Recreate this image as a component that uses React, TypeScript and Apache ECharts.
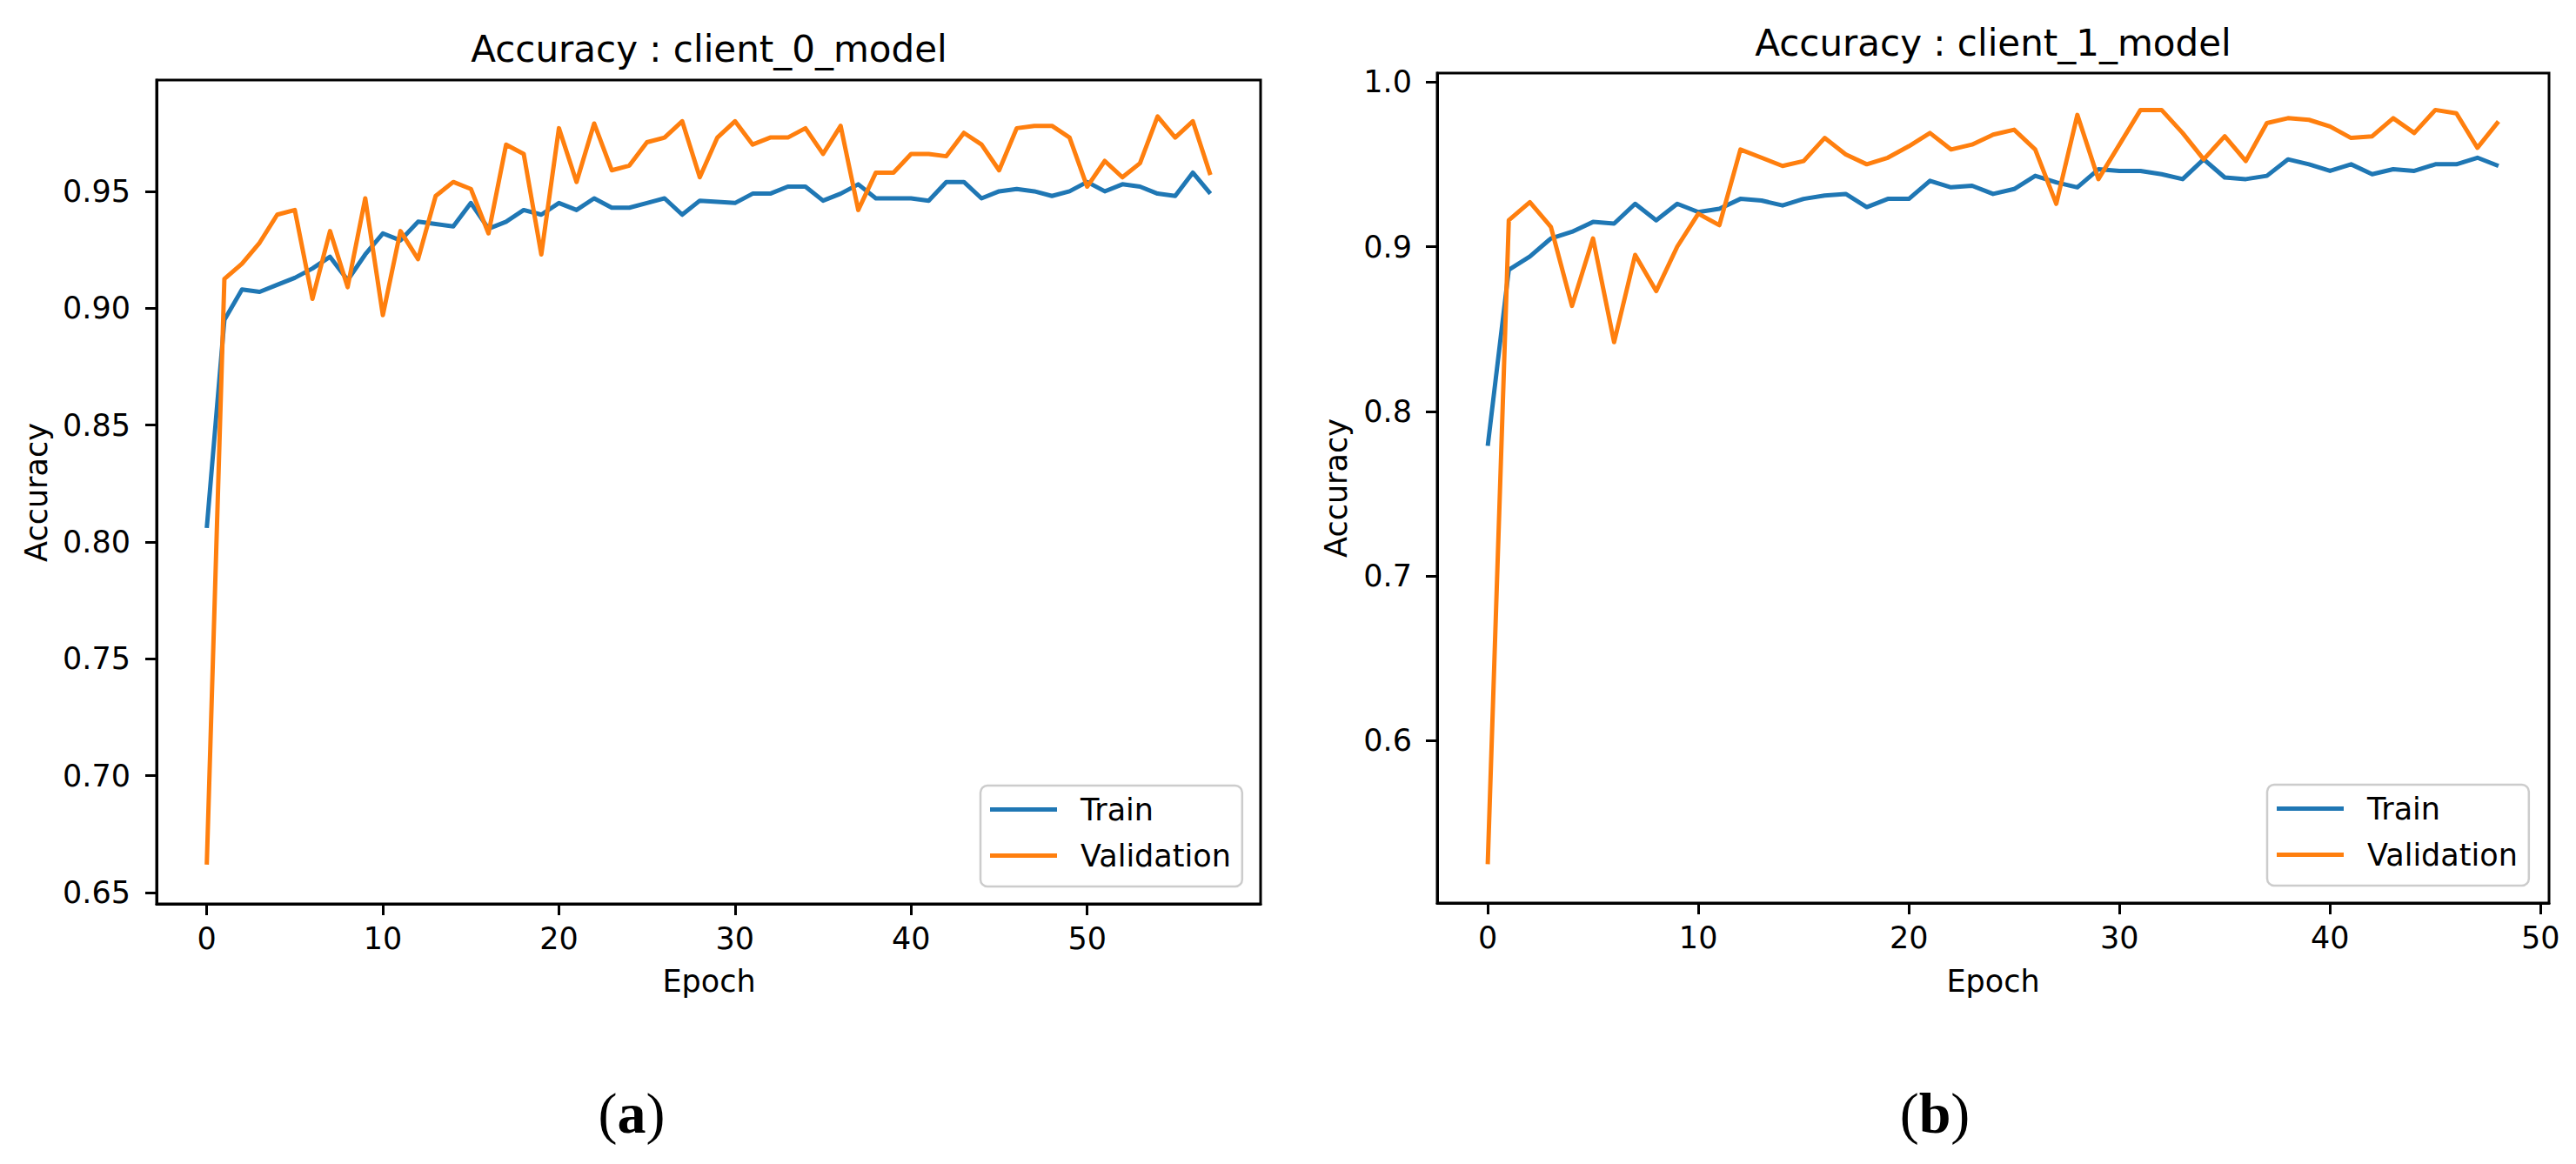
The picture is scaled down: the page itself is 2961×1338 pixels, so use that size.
import React, { useEffect, useRef } from "react";
import * as echarts from "echarts";

// ---- Data ----
const trainA = [
  0.806, 0.895, 0.908, 0.907, 0.91, 0.913, 0.917, 0.922, 0.912, 0.923,
  0.932, 0.929, 0.937, 0.936, 0.935, 0.945, 0.934, 0.937, 0.942, 0.94,
  0.945, 0.942, 0.947, 0.943, 0.943, 0.945, 0.947, 0.94, 0.946, 0.9455,
  0.945, 0.949, 0.949, 0.952, 0.952, 0.946, 0.949, 0.953, 0.947, 0.947,
  0.947, 0.946, 0.954, 0.954, 0.947, 0.95, 0.951, 0.95, 0.948, 0.95,
  0.954, 0.95, 0.953, 0.952, 0.949, 0.948, 0.958, 0.949,
];
const valA = [
  0.662, 0.9125, 0.919, 0.928, 0.94, 0.942, 0.904, 0.933, 0.909, 0.947,
  0.897, 0.933, 0.921, 0.948, 0.954, 0.951, 0.932, 0.97, 0.966, 0.923,
  0.977, 0.954, 0.979, 0.959, 0.961, 0.971, 0.973, 0.98, 0.956, 0.973,
  0.98, 0.97, 0.973, 0.973, 0.977, 0.966, 0.978, 0.942, 0.958, 0.958,
  0.966, 0.966, 0.965, 0.975, 0.97, 0.959, 0.977, 0.978, 0.978, 0.973,
  0.952, 0.963, 0.956, 0.962, 0.982, 0.973, 0.98, 0.957,
];
const trainB = [
  0.779, 0.886, 0.894, 0.905, 0.909, 0.915, 0.914, 0.926, 0.916, 0.926,
  0.921, 0.923, 0.929, 0.928, 0.925, 0.929, 0.931, 0.932, 0.924, 0.929,
  0.929, 0.94, 0.936, 0.937, 0.932, 0.935, 0.943, 0.939, 0.936, 0.947,
  0.946, 0.946, 0.944, 0.941, 0.953, 0.942, 0.941, 0.943, 0.953, 0.95,
  0.946, 0.95, 0.944, 0.947, 0.946, 0.95, 0.95, 0.954, 0.949,
];
const valB = [
  0.525, 0.916, 0.927, 0.912, 0.864, 0.905, 0.842, 0.895, 0.873, 0.9,
  0.92, 0.913, 0.959, 0.954, 0.949, 0.952, 0.966, 0.956, 0.95, 0.954,
  0.961, 0.969, 0.959, 0.962, 0.968, 0.971, 0.959, 0.926, 0.98, 0.941,
  0.962, 0.983, 0.983, 0.969, 0.953, 0.967, 0.952, 0.975, 0.978, 0.977,
  0.973, 0.966, 0.967, 0.978, 0.969, 0.983, 0.981, 0.96, 0.976,
];
const xTicks = [0, 10, 20, 30, 40, 50];
const yTicksA = [0.65, 0.7, 0.75, 0.8, 0.85, 0.9, 0.95];
const yTicksB = [0.6, 0.7, 0.8, 0.9, 1.0];
const titles = ["Accuracy : client_0_model", "Accuracy : client_1_model"];
const seriesNames = ["Train", "Validation"];
const colors = ["#1f77b4", "#ff7f0e"];

const FONT = "DejaVu Sans";
const TICK_FS = 35;

function pairs(arr: number[]) {
  return arr.map((v, i) => [i, v]);
}

function xAxisCfg(gridIndex: number, min: number, max: number) {
  return {
    type: "value",
    gridIndex,
    min,
    max,
    axisLine: { show: true, onZero: false, lineStyle: { color: "#000", width: 3 } },
    axisTick: {
      show: true,
      length: 13,
      inside: false,
      lineStyle: { color: "#000", width: 3 },
      customValues: xTicks,
    },
    axisLabel: {
      customValues: xTicks,
      fontSize: TICK_FS,
      fontFamily: FONT,
      color: "#000",
      margin: 22,
    },
    splitLine: { show: false },
  };
}

function yAxisCfg(gridIndex: number, min: number, max: number, ticks: number[], dec: number, margin: number) {
  return {
    type: "value",
    gridIndex,
    min,
    max,
    axisLine: { show: true, onZero: false, lineStyle: { color: "#000", width: 3 } },
    axisTick: {
      show: true,
      length: 13,
      inside: false,
      lineStyle: { color: "#000", width: 3 },
      customValues: ticks,
    },
    axisLabel: {
      customValues: ticks,
      fontSize: TICK_FS,
      fontFamily: FONT,
      color: "#000",
      margin,
      formatter: (v: number) => v.toFixed(dec),
    },
    splitLine: { show: false },
  };
}

function lineSeries(name: string, data: number[], idx: number, color: string) {
  return {
    type: "line",
    name,
    xAxisIndex: idx,
    yAxisIndex: idx,
    data: pairs(data),
    showSymbol: false,
    symbol: "none",
    lineStyle: { color, width: 5, join: "round" },
    itemStyle: { color },
    z: 3,
  };
}

function legendCfg(left: number, top: number) {
  return {
    left,
    top,
    orient: "vertical",
    data: seriesNames,
    icon: "rect",
    itemWidth: 77,
    itemHeight: 5,
    itemGap: 18,
    padding: [10, 13, 18, 11],
    backgroundColor: "rgba(255,255,255,0.8)",
    borderColor: "#cccccc",
    borderWidth: 2.5,
    borderRadius: 8,
    textStyle: {
      fontSize: TICK_FS,
      fontFamily: FONT,
      color: "#000",
      lineHeight: 35,
      padding: [0, 0, 0, 22],
    },
    selectedMode: false,
  };
}

function text(x: number, y: number, t: string, fs: number, extra: any = {}) {
  return {
    type: "text",
    x,
    y,
    ...extra,
    style: {
      text: t,
      fontSize: fs,
      fontFamily: FONT,
      fill: "#000",
      align: "center",
      verticalAlign: "middle",
      ...(extra.style || {}),
    },
  };
}

function panelLabel(x: number, y: number, letter: string) {
  return {
    type: "text",
    x,
    y,
    style: {
      text: "({b|" + letter + "})",
      fontSize: 66,
      fontFamily: "Liberation Serif",
      fill: "#000",
      align: "center",
      verticalAlign: "middle",
      rich: { b: { fontSize: 66, fontWeight: "bold", fontFamily: "Liberation Serif", fill: "#000" } },
    },
  };
}

export default function App() {
  const ref = useRef<HTMLDivElement>(null);
  useEffect(() => {
    if (!ref.current) return;
    const chart = echarts.init(ref.current, null, { renderer: "svg" });
    const option: any = {
      animation: false,
      backgroundColor: "#ffffff",
      grid: [
        { left: 180, top: 92, width: 1269, height: 947, show: true, borderColor: "#000", borderWidth: 3, backgroundColor: "transparent" },
        { left: 1652, top: 84, width: 1278, height: 954, show: true, borderColor: "#000", borderWidth: 3, backgroundColor: "transparent" },
      ],
      xAxis: [xAxisCfg(0, -2.85, 59.85), xAxisCfg(1, -2.4, 50.4)],
      yAxis: [
        yAxisCfg(0, 0.6452, 0.9976, yTicksA, 2, 30),
        yAxisCfg(1, 0.5014, 1.0054, yTicksB, 1, 29),
      ],
      legend: [legendCfg(1127, 903), legendCfg(2606, 902)],
      series: [
        lineSeries(seriesNames[0], trainA, 0, colors[0]),
        lineSeries(seriesNames[1], valA, 0, colors[1]),
        lineSeries(seriesNames[0], trainB, 1, colors[0]),
        lineSeries(seriesNames[1], valB, 1, colors[1]),
      ],
      graphic: [
        text(815, 56, titles[0], 42),
        text(2291, 49, titles[1], 42),
        text(815, 1128, "Epoch", TICK_FS),
        text(2291, 1128, "Epoch", TICK_FS),
        text(42, 566, "Accuracy", TICK_FS, { rotation: Math.PI / 2 }),
        text(1536, 561, "Accuracy", TICK_FS, { rotation: Math.PI / 2 }),
        panelLabel(726, 1279, "a"),
        panelLabel(2224, 1279, "b"),
      ],
    };
    chart.setOption(option);
    return () => chart.dispose();
  }, []);
  return (
    <div
      ref={ref}
      style={{ position: "fixed", left: 0, top: 0, width: 2961, height: 1338, background: "#fff" }}
    />
  );
}
